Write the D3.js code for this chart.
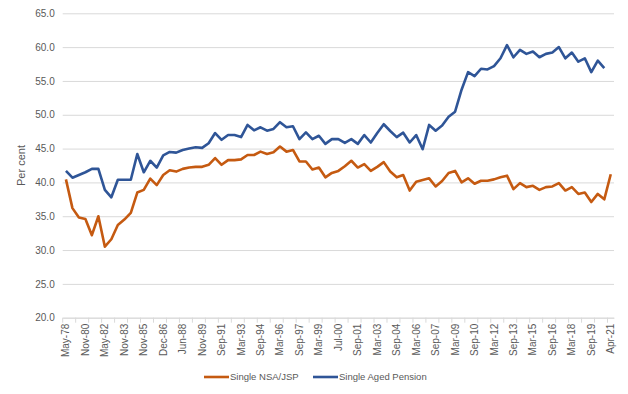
<!DOCTYPE html>
<html>
<head>
<meta charset="utf-8">
<script src="https://cdn.jsdelivr.net/npm/d3@7"></script>
<style>
  html, body { margin: 0; padding: 0; background: #fff; }
  svg { display: block; font-family: "Liberation Sans", Arial, sans-serif; }
</style>
</head>
<body>
<svg id="chart" width="628" height="394"></svg>
<script>
// Tick labels shown on the category axis (every third period)
const tickLabels = ["May-78","Nov-80","May-82","Nov-83","Nov-85","Dec-86","Jun-88","Nov-89",
  "Sep-91","Mar-93","Sep-94","Mar-96","Sep-97","Mar-99","Jul-00","Sep-01","Mar-03","Sep-04",
  "Mar-06","Sep-07","Mar-09","Sep-10","Mar-12","Sep-13","Mar-15","Sep-16","Mar-18","Sep-19","Apr-21"];

const seriesNames = ["Single NSA/JSP", "Single Aged Pension"];

const nsaJsp = [40.45,36.2,34.8,34.6,32.2,35.0,30.5,31.6,33.7,34.5,
  35.5,38.5,38.9,40.55,39.6,41.1,41.8,41.6,42.0,42.2,
  42.3,42.3,42.6,43.6,42.6,43.3,43.3,43.4,44.05,44.05,
  44.55,44.2,44.45,45.3,44.55,44.8,43.1,43.1,41.9,42.2,
  40.75,41.4,41.7,42.4,43.2,42.2,42.7,41.7,42.3,43.0,
  41.6,40.75,41.1,38.8,40.1,40.35,40.6,39.4,40.2,41.4,
  41.7,40.0,40.6,39.8,40.25,40.25,40.45,40.75,41.0,39.0,
  39.9,39.3,39.5,38.9,39.3,39.4,39.9,38.8,39.3,38.3,
  38.5,37.1,38.3,37.5,41.2];

const agedPension = [41.7,40.7,41.1,41.5,42.0,42.0,38.9,37.8,40.4,40.4,
  40.4,44.2,41.5,43.2,42.2,44.0,44.5,44.4,44.8,45.0,
  45.2,45.1,45.8,47.3,46.3,47.0,47.0,46.7,48.5,47.7,
  48.15,47.65,47.9,48.9,48.15,48.3,46.4,47.4,46.4,46.9,
  45.7,46.4,46.4,45.85,46.4,45.7,47.0,45.9,47.3,48.6,
  47.6,46.7,47.35,45.9,47.0,44.9,48.5,47.65,48.4,49.7,
  50.45,53.7,56.3,55.7,56.8,56.7,57.2,58.35,60.3,58.5,
  59.6,59.0,59.35,58.5,59.0,59.2,60.0,58.35,59.2,57.85,
  58.35,56.3,58.0,56.9,null];

const yTicks = [20,25,30,35,40,45,50,55,60,65];
const colors = ["#C55A11", "#2F5597"];

(function () {
const svg = d3.select("#chart");
const pLeft = 62.7, pRight = 614, pTop = 13.3, pBottom = 317.7;
const n = nsaJsp.length;
const idx = d3.range(n);

const x = d3.scaleBand().domain(idx).range([pLeft, pRight]).padding(0);
const y = d3.scaleLinear().domain([20, 65]).range([pBottom, pTop]);
const cx = i => x(i) + x.bandwidth() / 2;

// gridlines + y labels
const yAxis = d3.axisLeft(y).tickValues(yTicks).tickFormat(d => d.toFixed(1))
  .tickSize(-(pRight - pLeft)).tickPadding(8);
const gy = svg.append("g").attr("transform", `translate(${pLeft},0)`).call(yAxis);
gy.select(".domain").remove();
gy.selectAll(".tick line").attr("stroke", "#d9d9d9").attr("stroke-width", 1);
gy.selectAll(".tick text").attr("fill", "#595959").style("font-size", "10px");

// x axis labels
const xAxis = d3.axisBottom(x)
  .tickValues(idx.filter(i => i % 3 === 0))
  .tickFormat(i => tickLabels[i / 3])
  .tickSize(0);
const gx = svg.append("g").attr("transform", `translate(0,${pBottom})`).call(xAxis);
gx.select(".domain").attr("stroke", "#d9d9d9");
gx.selectAll(".tick text")
  .attr("fill", "#595959").style("font-size", "10px")
  .attr("transform", "rotate(-90)")
  .attr("text-anchor", "end")
  .attr("x", -6).attr("y", 0).attr("dy", "0.35em");

// tick marks every second category boundary
gx.selectAll("line.minor").data(idx.filter(i => i % 2 === 0)).enter()
  .append("line").attr("class", "minor")
  .attr("x1", i => x(i)).attr("x2", i => x(i))
  .attr("y1", 0).attr("y2", 5)
  .attr("stroke", "#d9d9d9");

// y axis title
svg.append("text")
  .attr("transform", `translate(25,${(pTop + pBottom) / 2}) rotate(-90)`)
  .attr("text-anchor", "middle")
  .attr("fill", "#595959").style("font-size", "11px")
  .text("Per cent");

// lines
const line = d3.line()
  .defined(d => d != null)
  .x((d, i) => cx(i))
  .y(d => y(d));
[nsaJsp, agedPension].forEach((s, k) => {
  svg.append("path").datum(s)
    .attr("fill", "none")
    .attr("stroke", colors[k])
    .attr("stroke-width", 2.6)
    .attr("stroke-linejoin", "round")
    .attr("d", line);
});

// legend
const legendItems = [{x: 204, name: seriesNames[0], c: colors[0]}, {x: 313, name: seriesNames[1], c: colors[1]}];
const lg = svg.append("g");
legendItems.forEach(it => {
  lg.append("line").attr("x1", it.x).attr("x2", it.x + 25)
    .attr("y1", 377).attr("y2", 377)
    .attr("stroke", it.c).attr("stroke-width", 2.6);
  lg.append("text").attr("x", it.x + 26).attr("y", 377).attr("dy", "0.35em")
    .attr("fill", "#595959").style("font-size", "9.5px")
    .text(it.name);
});
})();
</script>
</body>
</html>
